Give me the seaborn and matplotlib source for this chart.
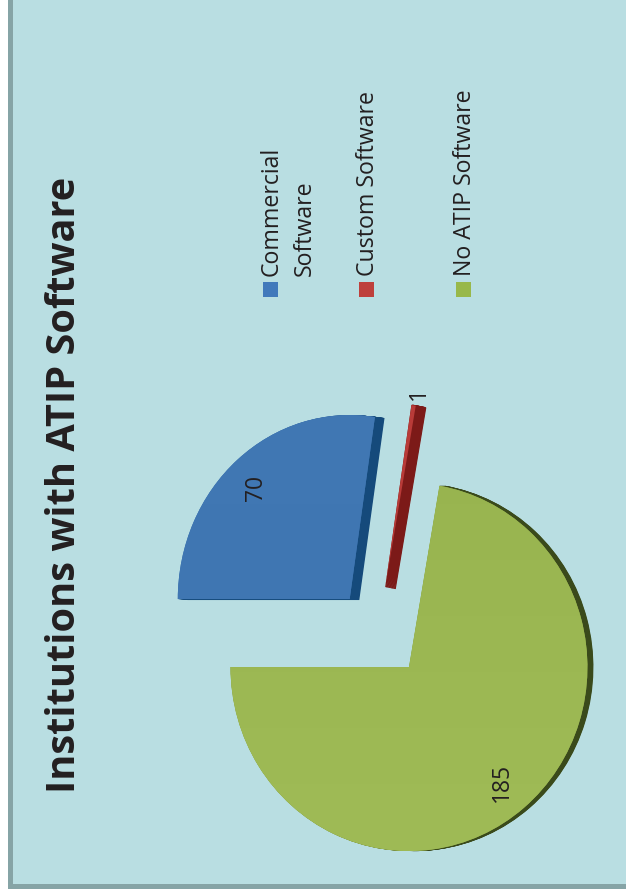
import matplotlib
matplotlib.use("Agg")
import matplotlib.pyplot as plt
import numpy as np
import seaborn as sns
from matplotlib.patches import Rectangle
from matplotlib.transforms import Affine2D

# Chart data
categories = ["Commercial\nSoftware", "Custom Software", "No ATIP Software"]
counts = [70, 1, 185]
title = "Institutions with ATIP Software"

# Colours
top_colors = ["#3f76b2", "#b93b38", "#95b14c"]
side_colors = ["#154a7b", "#7c1a18", "#3a4a1b"]
key_colors = ["#4179bb", "#be403c", "#98b84a"]
panel_color = "#b9dee2"
frame_color = "#86a4a6"
ink = "#231f20"

sns.set_theme(style="white")
plt.rcParams["font.family"] = ["Open Sans", "DejaVu Sans"]

W, H = 626, 896
fig = plt.figure(figsize=(W / 100, H / 100), dpi=100, facecolor="white")

# Backdrop layer in pixel units, origin at the top left
bg = fig.add_axes([0, 0, 1, 1])
bg.set(xlim=(0, W), ylim=(H, 0))
bg.axis("off")
bg.add_patch(Rectangle((8, 0), W - 8, 889, fc=frame_color, ec="none"))
bg.add_patch(Rectangle((13, 0), W - 13, 884, fc=panel_color, ec="none"))

# Pie layer: slightly narrower across than tall, like the tilted 3D original
x_scale = 0.97
radius = 184
explode = [48.8, 49.6, 40.6]
centre = (380.6 / x_scale, H - 636)
ax = fig.add_axes([0, 0, 1, 1], facecolor="none")
pie_args = dict(
    startangle=180,
    counterclock=False,
    explode=explode,
    radius=radius,
    center=centre,
    frame=False,
)

# Per-slice adjustments: horizontal squeeze, nudge and extrusion depth in pixels
squeeze = [0.963, 1.0, 1.0]
nudge = [(0, 0), (-3, 0), (3, 0)]
depth = [(10, -1), (10, -2), (6, 0)]


def place(wedges, shift):
    """Move each wedge by a fraction of its depth and apply its squeeze."""
    for w, sx, n, d in zip(wedges, squeeze, nudge, depth):
        cx, cy = w.center
        w.set_transform(
            Affine2D().translate(-cx, -cy).scale(sx, 1).translate(cx, cy) + ax.transData
        )
        w.set_center((cx + (n[0] + shift * d[0]) / x_scale, cy + n[1] + shift * d[1]))


# Side walls: a stack of dark copies swept out behind the top faces
for shift in np.linspace(1, 0.05, 14):
    side, _ = ax.pie(counts, colors=side_colors, wedgeprops=dict(lw=0), **pie_args)
    # The hairline slice needs a stroke so its narrow tip stays solid
    side[1].set_edgecolor(side[1].get_facecolor())
    side[1].set_linewidth(0.8)
    place(side, shift)

top, _ = ax.pie(counts, colors=top_colors, wedgeprops=dict(lw=0), **pie_args)
place(top, 0)

# Soft sheen across the two large faces
sheen = np.linspace(0, 1, 64)[:, None]
for w, col, lift in ((top[0], top_colors[0], 0.03), (top[2], top_colors[2], 0.06)):
    rgb = np.array(matplotlib.colors.to_rgb(col))
    img = rgb[None, None, :] - lift * 0.3 + sheen[:, :, None] * lift
    im = ax.imshow(np.clip(img, 0, 1), extent=(0, W / x_scale, 0, H),
                   origin="upper" if w is top[2] else "lower",
                   aspect="auto", zorder=w.get_zorder() + 0.1)
    im.set_clip_path(w)

ax.set_aspect("auto")
ax.set(xlim=(0, W / x_scale), ylim=(0, H), xticks=[], yticks=[])
ax.axis("off")

# Text layer above the pie
fg = fig.add_axes([0, 0, 1, 1], facecolor="none")
fg.set(xlim=(0, W), ylim=(H, 0))
fg.axis("off")

fg.text(65, 485, title, rotation=90, ha="center", va="center",
        fontsize=28.6, fontweight="bold", color=ink)

# Value labels
label_pos = [(256, 488), (419, 393), (502, 782)]
for v, (x, y) in zip(counts, label_pos):
    fg.text(x, y, str(v), rotation=90, ha="center", va="center",
            fontsize=16.5, color=ink)

# Legend keys and names, rotated with the rest of the page
key_x = [263, 359, 456]
for name, col, kx in zip(categories, key_colors, key_x):
    fg.add_patch(Rectangle((kx, 282), 15, 15, fc=col, ec="none"))
    lines = name.split("\n")
    for i, line in enumerate(lines):
        fg.text(kx + 9 + i * 33, 276, line, rotation=90, ha="center", va="bottom",
                fontsize=16.7, color=ink, rotation_mode="default")

fig.savefig("out.png", dpi=100)
